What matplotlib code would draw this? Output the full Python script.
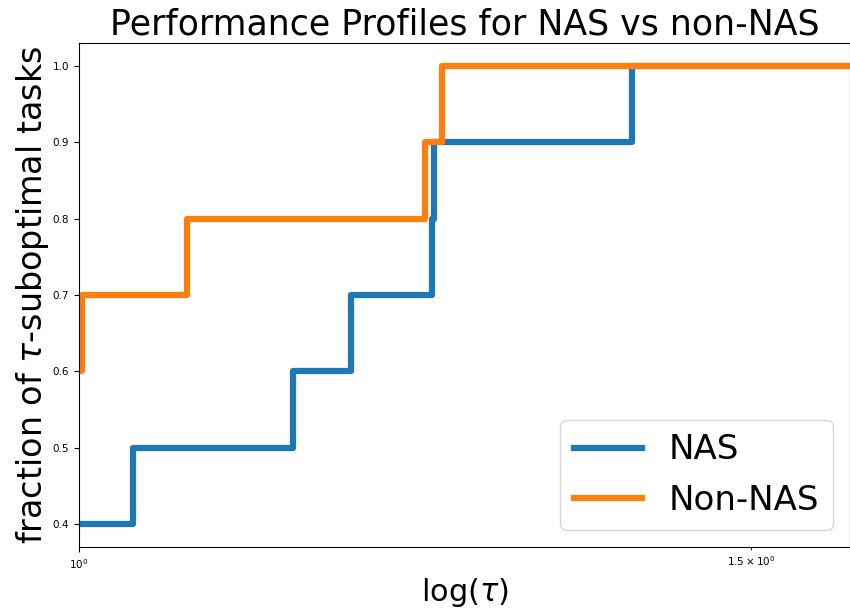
import numpy as np
import matplotlib
matplotlib.use("Agg")
import matplotlib.pyplot as plt
from matplotlib.ticker import FixedLocator, LogFormatterSciNotation

# performance profile data (tau where each step happens, fraction of tasks)
nas_tau = [1.0, 1.033, 1.138, 1.178, 1.237, 1.239, 1.396]
nas_frac = [0.4, 0.5, 0.6, 0.7, 0.8, 0.9, 1.0]
nonnas_tau = [1.0, 1.002, 1.067, 1.232, 1.245]
nonnas_frac = [0.6, 0.7, 0.8, 0.9, 1.0]
tau_max = 1.592

fig = plt.figure(figsize=(8.5, 6.12), dpi=100)
ax = fig.add_axes([0.093, 0.106, 0.907, 0.824])

for tau, frac, name in [(nas_tau, nas_frac, 'NAS'), (nonnas_tau, nonnas_frac, 'Non-NAS')]:
    t = np.array(tau + [tau_max])
    f = np.array(frac + [frac[-1]])
    ax.step(t, f, where='post', linewidth=4.5, label=name)

ax.set_xscale('log')
ax.set_xlim(1.0, tau_max)
# old matplotlib only put the 1.5 minor tick here
ax.xaxis.set_minor_locator(FixedLocator([1.5]))
ax.xaxis.set_minor_formatter(LogFormatterSciNotation(labelOnlyBase=False))
ax.tick_params(which='both', labelsize=7.5)
ax.set_xlabel(r'log($\tau$)', fontsize=22)
ax.set_ylabel(r'fraction of $\tau$-suboptimal tasks', fontsize=24, labelpad=1)
ax.set_title('Performance Profiles for NAS vs non-NAS', fontsize=25)
ax.legend(loc='lower right', fontsize=24.5)

fig.savefig('out.png', dpi=100)
